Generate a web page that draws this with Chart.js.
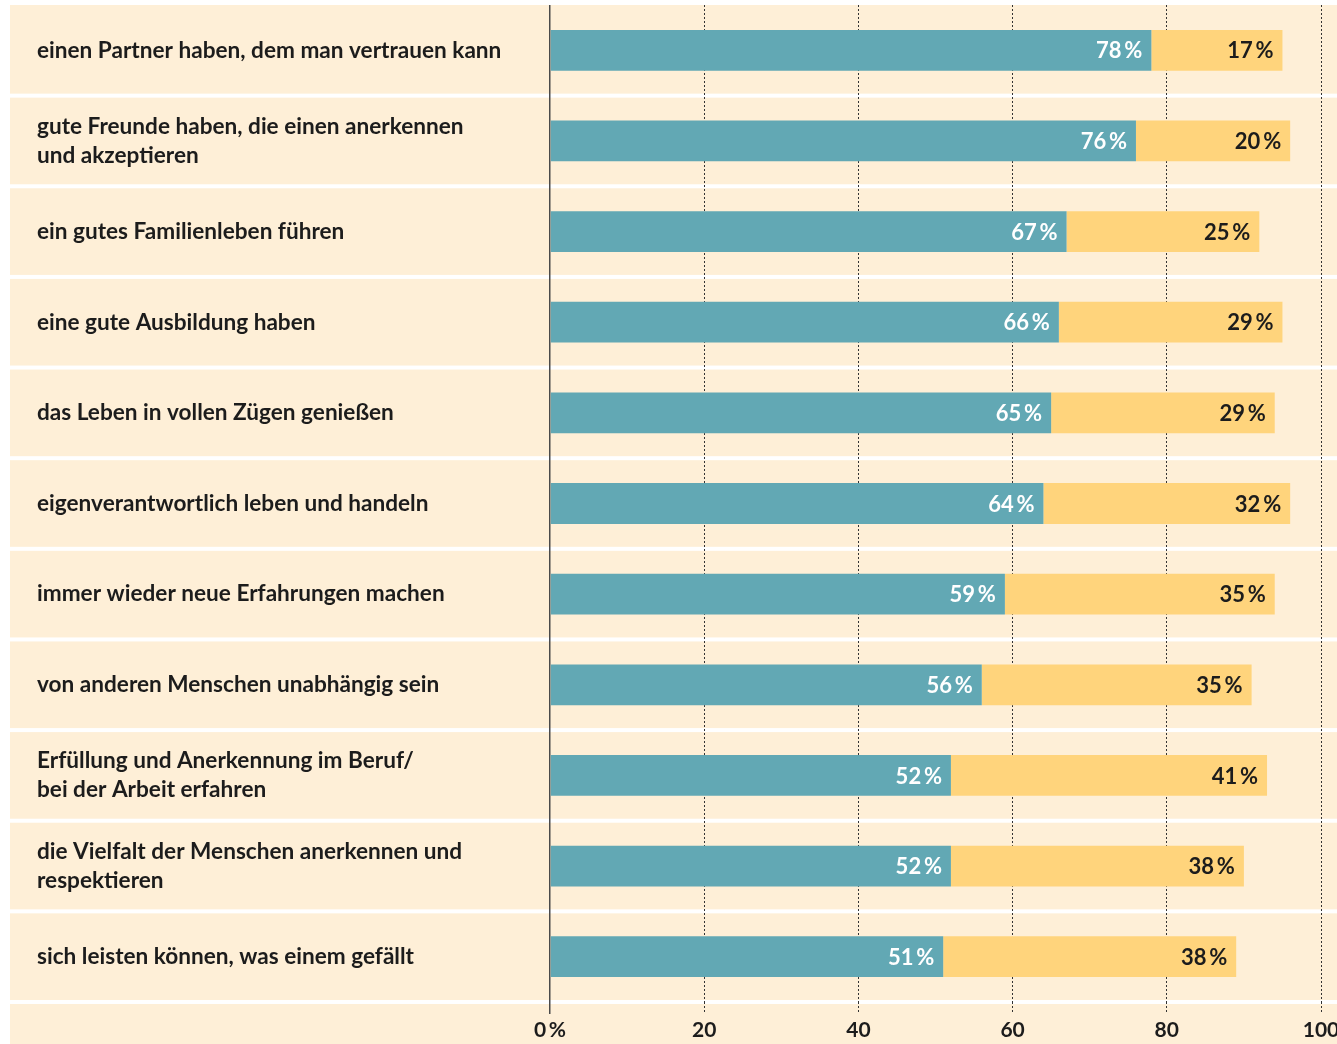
<!DOCTYPE html>
<html>
<head>
<meta charset="utf-8">
<script src="https://cdn.jsdelivr.net/npm/chart.js@4"></script>
<style>
  html, body { margin: 0; padding: 0; background: #fff; overflow: hidden; }
  #wrap { position: absolute; left: 0; top: 0; width: 1351px; height: 1044px; }
</style>
</head>
<body>
<div id="wrap"><canvas id="chart"></canvas></div>
<script>
const categories = [
    'einen Partner haben, dem man vertrauen kann',
    ['gute Freunde haben, die einen anerkennen', 'und akzeptieren'],
    'ein gutes Familienleben führen',
    'eine gute Ausbildung haben',
    'das Leben in vollen Zügen genießen',
    'eigenverantwortlich leben und handeln',
    'immer wieder neue Erfahrungen machen',
    'von anderen Menschen unabhängig sein',
    ['Erfüllung und Anerkennung im Beruf/', 'bei der Arbeit erfahren'],
    ['die Vielfalt der Menschen anerkennen und', 'respektieren'],
    'sich leisten können, was einem gefällt'
];
const sehrWichtig = [78, 76, 67, 66, 65, 64, 59, 56, 52, 52, 51];
const wichtig = [17, 20, 25, 29, 29, 32, 35, 35, 41, 38, 38];
const xTicks = [0, 20, 40, 60, 80, 100];

const BEIGE = '#feefd7';
const TEAL = '#62a8b4';
const YELLOW = '#ffd47c';
const INK = '#1c1c1c';
const FONT = '"Lato", "Open Sans", sans-serif';

// beige panel + white row separators
const rowBands = {
    id: 'rowBands',
    beforeDraw(chart) {
        const { ctx, chartArea, scales: { y } } = chart;
        ctx.save();
        ctx.fillStyle = '#ffffff';
        ctx.fillRect(0, 0, chart.width, chart.height);
        ctx.fillStyle = BEIGE;
        ctx.fillRect(10, chartArea.top, chart.width - 10, chart.height - chartArea.top);
        ctx.fillStyle = '#ffffff';
        const n = categories.length;
        for (let i = 0; i < n; i++) {
            const p = y.getPixelForValue(i);
            const next = i < n - 1 ? y.getPixelForValue(i + 1) : p + (p - y.getPixelForValue(i - 1));
            const b = (p + next) / 2;
            ctx.fillRect(10, b - 2, chart.width - 10, 4);
        }
        ctx.restore();
    }
};

// percent labels inside the bar segments
const valueLabels = {
    id: 'valueLabels',
    afterDatasetsDraw(chart) {
        const { ctx } = chart;
        ctx.save();
        ctx.font = 'bold 22px ' + FONT;
        ctx.textAlign = 'right';
        ctx.textBaseline = 'middle';
        chart.data.datasets.forEach((ds, di) => {
            const meta = chart.getDatasetMeta(di);
            ctx.fillStyle = di === 0 ? '#ffffff' : INK;
            meta.data.forEach((bar, i) => {
                ctx.fillText(ds.data[i] + '\u2009%', bar.x - 9, bar.y + 1);
            });
        });
        ctx.restore();
    }
};

const isZero = c => c.tick && c.tick.value === 0;

new Chart(document.getElementById('chart'), {
    type: 'bar',
    data: {
        labels: categories,
        datasets: [
            { label: 'sehr wichtig', data: sehrWichtig, backgroundColor: TEAL },
            { label: 'wichtig', data: wichtig, backgroundColor: YELLOW }
        ]
    },
    options: {
        indexAxis: 'y',
        responsive: true,
        maintainAspectRatio: false,
        animation: false,
        layout: { padding: { left: 37, right: 30, top: 5, bottom: 0 } },
        datasets: {
            bar: { barPercentage: 1, categoryPercentage: 0.45, borderWidth: 0 }
        },
        scales: {
            x: {
                stacked: true,
                min: 0,
                max: 100,
                afterBuildTicks: s => { s.ticks = xTicks.map(v => ({ value: v })); },
                afterFit: s => { s.height = 42; },
                ticks: {
                    callback: v => v === 0 ? '0\u2009%' : v,
                    color: INK,
                    font: { family: FONT, size: 21, weight: 'bold' },
                    padding: 4,
                    maxRotation: 0
                },
                grid: {
                    color: c => isZero(c) ? '#4a4a4a' : '#333333',
                    lineWidth: c => isZero(c) ? 1.5 : 1,
                    tickColor: c => isZero(c) ? '#4a4a4a' : '#333333',
                    tickLength: 12,
                    tickBorderDash: c => isZero(c) ? [] : [2, 2]
                },
                border: {
                    display: false,
                    dash: c => isZero(c) ? [] : [2, 2]
                }
            },
            y: {
                stacked: true,
                afterFit: s => { s.width = 513; s.paddingTop = 0; s.paddingBottom = 0; },
                grid: { display: false },
                border: { display: false },
                ticks: {
                    crossAlign: 'far',
                    autoSkip: false,
                    padding: 0,
                    color: INK,
                    font: { family: FONT, size: 22.6, weight: 'bold', lineHeight: 1.3 }
                }
            }
        },
        plugins: {
            legend: { display: false },
            tooltip: { enabled: false }
        }
    },
    plugins: [rowBands, valueLabels]
});
</script>
</body>
</html>
